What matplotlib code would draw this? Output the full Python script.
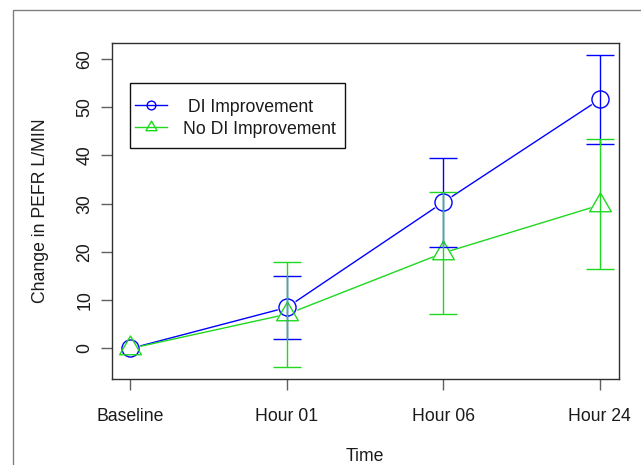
import numpy as np
import matplotlib
matplotlib.use("Agg")
import matplotlib.pyplot as plt
from matplotlib.path import Path
from matplotlib.lines import Line2D
from matplotlib.patches import Rectangle

plt.rcParams['font.family'] = ['Liberation Sans', 'DejaVu Sans']

# ---- data ----
categories = ["Baseline", "Hour 01", "Hour 06", "Hour 24"]
di_mean = [0.0, 8.5, 30.3, 51.6]
di_lower = [0.0, 2.0, 21.1, 42.4]
di_upper = [0.0, 15.0, 39.5, 60.7]
nodi_mean = [0.0, 7.1, 19.8, 29.7]
nodi_lower = [0.0, -3.8, 7.2, 16.4]
nodi_upper = [0.0, 18.0, 32.4, 43.3]
series_names = [" DI Improvement", "No DI Improvement"]
yticks = [0, 10, 20, 30, 40, 50, 60]

BLUE = "#0000FF"
GREEN = "#1FD81F"
FS = 12.7

W, H = 641, 465
fig = plt.figure(figsize=(W / 100, H / 100), dpi=100)

def fx(px):
    return px / W

def fy(py):
    return 1 - py / H

# outer grey frame (top and left edges)
fig.add_artist(Line2D([fx(13), fx(13), fx(641)], [fy(465), fy(10), fy(10)],
                      color="#808080", lw=1.0))

ax = fig.add_axes([fx(111.7), fy(379.3), fx(618.5) - fx(111.7), fy(43) - fy(379.3)])

x = np.arange(1, len(categories) + 1)

# R-style triangle (pch=2), centred on centroid
tri = Path([(0, 1.555), (1.347, -0.778), (-1.347, -0.778), (0, 1.555)],
           [Path.MOVETO, Path.LINETO, Path.LINETO, Path.CLOSEPOLY])

lw = 1.0
# connecting lines
ax.plot(x, di_mean, color=BLUE, lw=lw, zorder=2)
ax.plot(x, nodi_mean, color=GREEN, lw=lw, zorder=2)
# white masks (type = "b" gaps)
ax.plot(x, di_mean, ls="none", marker="o", ms=14.5, mfc="white", mec="none", zorder=2.5)
ax.plot(x, nodi_mean, ls="none", marker=tri, ms=20.5, mfc="white", mec="none", zorder=2.5)
# markers
ax.plot(x, di_mean, ls="none", marker="o", ms=12.3, mfc="none", mec=BLUE, mew=lw, zorder=3)
ax.plot(x, nodi_mean, ls="none", marker=tri, ms=18.0, mfc="none", mec=GREEN, mew=lw, zorder=3)

# error bars (not at baseline); green drawn after blue
xm = x[1:]
for mean, lo, hi, col, z in [(di_mean, di_lower, di_upper, BLUE, 3.2),
                             (nodi_mean, nodi_lower, nodi_upper, GREEN, 3.4)]:
    m = np.array(mean[1:])
    err = np.vstack([m - np.array(lo[1:]), np.array(hi[1:]) - m])
    ax.errorbar(xm, m, yerr=err, fmt="none", ecolor=col, elinewidth=lw,
                capsize=9.9, capthick=lw, zorder=z)

# limits like R (4% extension)
lo_all = min(min(di_lower), min(nodi_lower))
hi_all = max(max(di_upper), max(nodi_upper))
r = hi_all - lo_all
ax.set_ylim(lo_all - 0.04 * r, hi_all + 0.04 * r)
ax.set_xlim(1 - 0.04 * 3, len(categories) + 0.04 * 3)

ax.set_xticks(x)
ax.set_xticklabels(categories)
ax.set_yticks(yticks)
ax.set_yticklabels([str(v) for v in yticks])

for s in ax.spines.values():
    s.set_color("#303030")
    s.set_linewidth(1.0)

ax.tick_params(axis="both", direction="out", length=8.0, width=1.0,
               color="#606060", labelsize=FS, labelcolor="#1a1a1a")
ax.tick_params(axis="x", pad=22.0)
ax.tick_params(axis="y", pad=8.2)
for lab in ax.get_xticklabels():
    lab.set_verticalalignment("baseline")
for lab in ax.get_yticklabels():
    lab.set_rotation(90)
    lab.set_rotation_mode("anchor")
    lab.set_horizontalalignment("center")
    lab.set_verticalalignment("baseline")

ax.set_xlabel("Time", fontsize=FS, color="#1a1a1a")
ax.xaxis.label.set_verticalalignment("baseline")
ax.xaxis.set_label_coords(0.5, (379.3 - 460.8) / 336.3)
ax.set_ylabel("Change in PEFR L/MIN", fontsize=FS, color="#1a1a1a")
ax.yaxis.label.set_rotation_mode("anchor")
ax.yaxis.label.set_horizontalalignment("center")
ax.yaxis.label.set_verticalalignment("baseline")
ax.yaxis.set_label_coords((45.0 - 111.7) / 506.8, 0.5)

# legend (drawn like R's legend box)
fig.add_artist(Rectangle((fx(130), fy(148)), fx(345) - fx(130), fy(83) - fy(148),
                         fill=False, edgecolor="#111111", lw=1.0, zorder=5))
rows = [105.5, 127.3]
text_x = [183, 183]
for i, (name, col, mk, ms) in enumerate([(series_names[0], BLUE, "o", 6.3),
                                         (series_names[1], GREEN, tri, 9.2)]):
    yy = fy(rows[i])
    fig.add_artist(Line2D([fx(135), fx(167)], [yy, yy], color=col, lw=lw, zorder=6))
    fig.add_artist(Line2D([fx(151)], [yy], ls="none", marker=mk, ms=ms, mfc="none",
                          mec=col, mew=lw, zorder=6))
    fig.text(fx(text_x[i]), fy(rows[i] + 6.3), name, fontsize=FS, color="#1a1a1a",
             va="baseline", ha="left")

fig.savefig("out.png", dpi=100)
